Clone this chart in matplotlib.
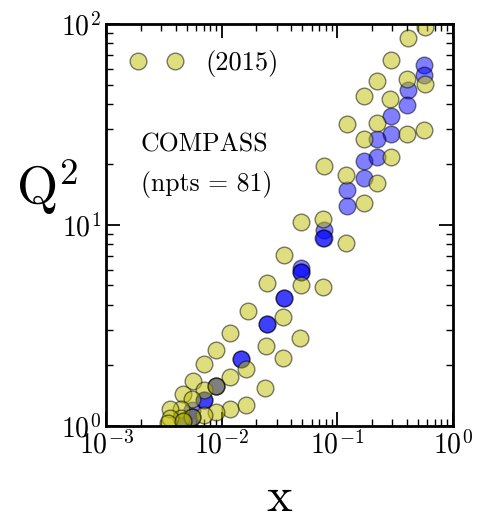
import numpy as np
import matplotlib
matplotlib.use('Agg')
import matplotlib.pyplot as plt

plt.rcParams['font.family'] = ['cmr10', 'DejaVu Serif']
plt.rcParams['mathtext.fontset'] = 'cm'
plt.rcParams['axes.formatter.use_mathtext'] = True

# COMPASS (2015) points
x_yel = [0.571, 0.407, 0.290, 0.571, 0.405, 0.223, 0.172, 0.289, 0.122, 0.222,
         0.405, 0.565, 0.171, 0.0765, 0.290, 0.120, 0.223, 0.171, 0.0488, 0.0752,
         0.119, 0.0346, 0.0246, 0.0482, 0.0747, 0.0168, 0.0341, 0.0118, 0.0481, 0.0241,
         0.00893, 0.0341, 0.00706, 0.0164, 0.0118, 0.00562, 0.0239, 0.00464, 0.00697, 0.00549,
         0.0164, 0.0117, 0.00890, 0.00697, 0.00445, 0.00357, 0.00445, 0.00357, 0.00343,
         0.00900, 0.00549, 0.00460]
q_yel = [96.1, 85.2, 66.2, 50.3, 53.1, 52.2, 43.6, 42.2, 31.7, 32.1,
         28.4, 29.7, 26.7, 19.7, 21.7, 17.7, 16.1, 12.9, 10.4, 10.7,
         8.18, 7.05, 5.15, 5.00, 4.92, 3.73, 3.50, 2.89, 2.73, 2.51,
         2.40, 2.17, 2.03, 1.92, 1.75, 1.68, 1.55, 1.45, 1.51, 1.36,
         1.27, 1.22, 1.18, 1.13, 1.22, 1.21, 1.09, 1.10, 1.03,
         1.58, 1.11, 1.06]

x_blue = [0.568, 0.568, 0.407, 0.404, 0.290, 0.290, 0.223, 0.171, 0.223, 0.171,
          0.121, 0.121, 0.0763, 0.0763, 0.0760, 0.0482, 0.0482, 0.0482,
          0.0345, 0.0345, 0.0246, 0.0246, 0.0146, 0.0146, 0.00900, 0.00900,
          0.00703, 0.00703, 0.00558, 0.00549, 0.00549, 0.00460, 0.00460]
q_blue = [62.5, 55.7, 46.9, 39.5, 34.7, 28.3, 26.7, 20.9, 21.9, 17.2,
          14.9, 12.5, 9.44, 8.59, 8.59, 6.11, 5.84, 5.84,
          4.31, 4.31, 3.20, 3.20, 2.15, 2.15, 1.58, 1.58,
          1.35, 1.35, 1.20, 1.11, 1.11, 1.06, 1.06]


def main():
    fig = plt.figure(figsize=(4.78, 5.22), dpi=100)
    ax = fig.add_axes([0.222, 0.184, 0.725, 0.770])

    ax.plot(x_blue, q_blue, 'o', color='b', mec='k', mew=1.0, ms=12.0, alpha=0.5)
    ax.plot(x_yel, q_yel, 'o', color='y', mec='k', mew=1.0, ms=12.0, alpha=0.5,
            label='(2015)')

    ax.set_xscale('log')
    ax.set_yscale('log')
    ax.set_xlim(1e-3, 1)
    ax.set_ylim(1, 100)

    ax.tick_params(which='both', direction='in', top=True, right=True, labelsize=20)
    ax.tick_params(which='major', length=10, width=1.3)
    ax.tick_params(which='minor', length=5, width=1.0)
    for sp in ax.spines.values():
        sp.set_linewidth(2.0)

    ax.set_xlabel('x', fontsize=35, labelpad=12)
    ax.set_ylabel(r'Q$^2$', fontsize=38, rotation=0)
    ax.yaxis.set_label_coords(-0.17, 0.52)

    ax.legend(loc='upper left', bbox_to_anchor=(0.0, 0.995), numpoints=2,
              frameon=False, fontsize=19, handletextpad=0.85)
    ax.text(0.10, 0.70, 'COMPASS', transform=ax.transAxes, fontsize=18.5,
            va='center', ha='left')
    ax.text(0.10, 0.60, '(npts = 81)', transform=ax.transAxes, fontsize=18.5,
            va='center', ha='left')

    fig.savefig('out.png', dpi=100)


if __name__ == "__main__":
    main()
